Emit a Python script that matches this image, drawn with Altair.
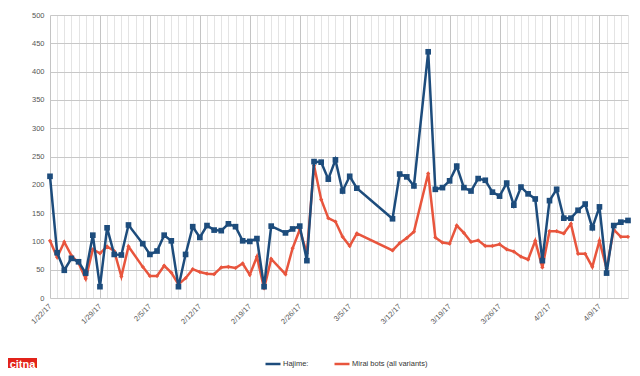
import altair as alt
import pandas as pd

dates = [
    "2017-01-22", "2017-01-23", "2017-01-24", "2017-01-25", "2017-01-26", "2017-01-27",
    "2017-01-28", "2017-01-29", "2017-01-30", "2017-01-31", "2017-02-01", "2017-02-02",
    "2017-02-04", "2017-02-05", "2017-02-06", "2017-02-07", "2017-02-08", "2017-02-09",
    "2017-02-10", "2017-02-11", "2017-02-12", "2017-02-13", "2017-02-14", "2017-02-15",
    "2017-02-16", "2017-02-17", "2017-02-18", "2017-02-19", "2017-02-20", "2017-02-21",
    "2017-02-22", "2017-02-24", "2017-02-25", "2017-02-26", "2017-02-27", "2017-02-28",
    "2017-03-01", "2017-03-02", "2017-03-03", "2017-03-04", "2017-03-05", "2017-03-06",
    "2017-03-11", "2017-03-12", "2017-03-13", "2017-03-14", "2017-03-16", "2017-03-17",
    "2017-03-18", "2017-03-19", "2017-03-20", "2017-03-21", "2017-03-22", "2017-03-23",
    "2017-03-24", "2017-03-25", "2017-03-26", "2017-03-27", "2017-03-28", "2017-03-29",
    "2017-03-30", "2017-03-31", "2017-04-01", "2017-04-02", "2017-04-03", "2017-04-04",
    "2017-04-05", "2017-04-06", "2017-04-07", "2017-04-08", "2017-04-09", "2017-04-10",
    "2017-04-11", "2017-04-12", "2017-04-13",
]

hajime = [
    215, 80, 49, 70, 64, 44, 111, 20, 124, 77, 76, 129,
    96, 77, 83, 111, 101, 20, 77, 126, 107, 128, 120, 119,
    131, 126, 101, 100, 105, 20, 127, 115, 122, 127, 66, 241,
    240, 210, 244, 189, 215, 194, 140, 219, 214, 198, 435, 192,
    195, 207, 233, 195, 189, 211, 208, 187, 180, 203, 164, 196,
    184, 175, 66, 172, 192, 141, 141, 155, 166, 124, 161, 44,
    128, 134, 137,
]

mirai = [
    101, 72, 99, 75, 62, 34, 86, 79, 91, 83, 38, 91,
    55, 39, 39, 57, 45, 24, 35, 51, 46, 43, 42, 54,
    55, 53, 61, 41, 73, 17, 69, 42, 88, 121, 79, 234,
    174, 141, 135, 108, 92, 114, 84, 97, 106, 117, 220, 107,
    98, 96, 128, 115, 99, 102, 92, 92, 95, 86, 82, 73,
    68, 101, 54, 118, 118, 114, 131, 78, 78, 55, 101, 52,
    121, 108, 108,
]

series_names = ["Hajime:", "Mirai bots (all variants)"]
series_colors = ["#1d4c7c", "#e8553d"]
y_ticks = [0, 50, 100, 150, 200, 250, 300, 350, 400, 450, 500]
x_start = "2017-01-22"
x_end = "2017-04-13"
watermark = ["citna"]

df = pd.concat([
    pd.DataFrame({"date": pd.to_datetime(dates), "value": hajime, "series": series_names[0]}),
    pd.DataFrame({"date": pd.to_datetime(dates), "value": mirai, "series": series_names[1]}),
])

day_values = [
    alt.DateTime(year=d.year, month=d.month, date=d.day)
    for d in pd.date_range(x_start, x_end, freq="D")
]
s0 = pd.Timestamp(x_start)
s1 = pd.Timestamp(x_end)

FONT = "Liberation Sans"

x_enc = alt.X(
    "date:T",
    scale=alt.Scale(
        domain=[alt.DateTime(year=s0.year, month=s0.month, date=s0.day),
                alt.DateTime(year=s1.year, month=s1.month, date=s1.day)],
        nice=False,
    ),
    axis=alt.Axis(
        title=None,
        values=day_values,
        labelExpr="day(datum.value) == 0 ? timeFormat(datum.value, '%-m/%-d/%y') : ''",
        labelAngle=-45,
        labelAlign="right",
        labelBaseline="middle",
        labelPadding=7,
        labelFontSize=7.5,
        labelColor="#555555",
        labelFont=FONT,
        labelOverlap=False,
        ticks=False,
        domain=False,
        grid=True,
        gridColor={"condition": {"test": "day(datum.value) == 0", "value": "#c4c4c4"}, "value": "#e4e4e4"},
        gridWidth=1,
    ),
)

y_enc = alt.Y(
    "value:Q",
    scale=alt.Scale(domain=[0, 500], nice=False),
    axis=alt.Axis(
        title=None,
        values=y_ticks,
        labelFontSize=7.5,
        labelColor="#555555",
        labelFont=FONT,
        labelPadding=6,
        ticks=False,
        domain=False,
        grid=True,
        gridColor="#c8c8c8",
    ),
)

color_enc = alt.Color(
    "series:N",
    scale=alt.Scale(domain=series_names, range=series_colors),
    legend=alt.Legend(
        title=None,
        orient="none",
        legendX=214,
        legendY=340,
        direction="horizontal",
        symbolType="stroke",
        symbolStrokeWidth=2.5,
        symbolSize=225,
        labelFontSize=7.5,
        labelFont=FONT,
        labelColor="#333333",
        columnPadding=20,
        labelOffset=1,
    ),
)

order_enc = alt.Order("date:T")

lines_m = alt.Chart(df[df["series"] == series_names[1]]).mark_line(strokeWidth=2.5).encode(
    x=x_enc, y=y_enc, color=color_enc, order=order_enc
)
pts_m = alt.Chart(df[df["series"] == series_names[1]]).mark_point(
    shape="diamond", filled=True, size=18, opacity=1
).encode(x=x_enc, y=y_enc, color=color_enc)

lines_h = alt.Chart(df[df["series"] == series_names[0]]).mark_line(strokeWidth=2.5).encode(
    x=x_enc, y=y_enc, color=color_enc, order=order_enc
)
pts_h = alt.Chart(df[df["series"] == series_names[0]]).mark_point(
    shape="square", filled=True, size=32, opacity=1
).encode(x=x_enc, y=y_enc, color=color_enc)

wm_df = pd.DataFrame({"t": watermark})
wm_box = alt.Chart(wm_df).mark_rect(color="#e2231a").encode(
    x=alt.value(-42), x2=alt.value(-13), y=alt.value(343), y2=alt.value(355)
)
wm_text = alt.Chart(wm_df).mark_text(
    font=FONT, fontSize=11, fontWeight="bold", color="white", align="center", baseline="middle"
).encode(x=alt.value(-27.5), y=alt.value(349.5), text="t:N")

chart = alt.layer(lines_m, pts_m, lines_h, pts_h, wm_box, wm_text).properties(
    width=578,
    height=283,
    autosize=alt.AutoSizeParams(type="none"),
    padding={"left": 42, "top": 7, "right": 4, "bottom": 70},
    background="white",
).configure_view(strokeWidth=0)

chart.save("out.html", embed_options={"renderer": "svg", "actions": False})
